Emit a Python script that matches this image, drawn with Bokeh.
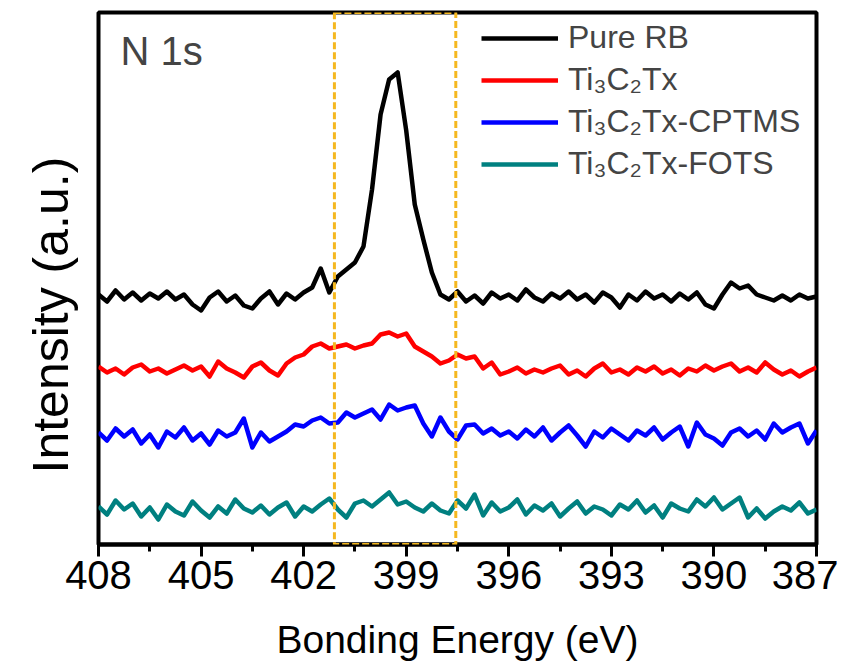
import math
from bokeh.plotting import figure
from bokeh.models import Range1d, FixedTicker, BoxAnnotation, Label, Legend, LegendItem, Title
from bokeh.embed import file_html
from bokeh.resources import INLINE

# ---------------- data ----------------
energy = [408.00, 407.75, 407.50, 407.25, 407.00, 406.75, 406.50, 406.25,
          406.00, 405.75, 405.50, 405.25, 405.00, 404.75, 404.50, 404.25,
          404.00, 403.75, 403.50, 403.25, 403.00, 402.75, 402.50, 402.25,
          402.00, 401.75, 401.50, 401.25, 401.00, 400.75, 400.50, 400.25,
          400.00, 399.75, 399.50, 399.25, 399.00, 398.75, 398.50, 398.25,
          398.00, 397.75, 397.50, 397.25, 397.00, 396.75, 396.50, 396.25,
          396.00, 395.75, 395.50, 395.25, 395.00, 394.75, 394.50, 394.25,
          394.00, 393.75, 393.50, 393.25, 393.00, 392.75, 392.50, 392.25,
          392.00, 391.75, 391.50, 391.25, 391.00, 390.75, 390.50, 390.25,
          390.00, 389.75, 389.50, 389.25, 389.00, 388.75, 388.50, 388.25,
          388.00, 387.75, 387.50, 387.25, 387.00]

pure_rb = [250, 243, 254, 245, 252, 244, 251, 246,
           253, 245, 250, 240, 234, 247, 253, 243,
           249, 239, 236, 246, 253, 240, 251, 245,
           252, 257, 276, 252, 268, 275, 282, 298,
           355, 430, 465, 472, 414, 340, 305, 272,
           250, 245, 253, 243, 249, 241, 252, 246,
           250, 244, 255, 247, 243, 251, 246, 253,
           245, 250, 242, 252, 247, 237, 250, 244,
           253, 246, 250, 243, 251, 245, 252, 240,
           236, 250, 262, 256, 259, 250, 247, 244,
           249, 244, 250, 246, 248]

ti3c2tx = [178, 172, 176, 170, 177, 180, 173, 176,
           171, 175, 179, 174, 178, 168, 183, 176,
           172, 167, 178, 182, 174, 169, 181, 187,
           190, 198, 201, 196, 198, 200, 196, 199,
           201, 210, 212, 208, 211, 198, 193, 188,
           181, 184, 190, 186, 188, 176, 182, 170,
           173, 177, 171, 175, 172, 176, 179, 170,
           174, 168, 176, 181, 172, 175, 170, 177,
           173, 178, 171, 175, 169, 176, 173, 179,
           174, 178, 181, 173, 177, 172, 182, 175,
           170, 174, 168, 173, 177]

ti3c2tx_cptms = [112, 104, 116, 108, 115, 101, 110, 97,
                 113, 107, 117, 104, 111, 100, 114, 108,
                 112, 126, 97, 112, 103, 108, 113, 120,
                 118, 124, 127, 121, 122, 132, 127, 131,
                 135, 125, 140, 134, 137, 139, 121, 108,
                 127, 113, 105, 119, 120, 111, 116, 109,
                 113, 106, 115, 108, 117, 104, 112, 119,
                 109, 98, 113, 107, 116, 110, 104, 114,
                 109, 117, 105, 112, 118, 98, 122, 110,
                 106, 99, 112, 116, 108, 114, 105, 121,
                 112, 117, 121, 101, 114]

ti3c2tx_fots = [38, 30, 44, 35, 41, 28, 37, 25,
                40, 33, 29, 43, 34, 27, 38, 31,
                45, 36, 32, 39, 30, 37, 42, 28,
                38, 33, 40, 46, 35, 27, 41, 44,
                38, 45, 52, 40, 43, 37, 33, 41,
                34, 31, 44, 36, 50, 29, 42, 33,
                37, 45, 30, 39, 34, 41, 28, 36,
                43, 31, 38, 35, 29, 40, 35, 44,
                32, 39, 27, 41, 36, 33, 45, 38,
                47, 35, 41, 47, 27, 36, 26, 33,
                38, 34, 42, 31, 35]

series_names = ["Pure RB", "Ti\u2083C\u2082Tx", "Ti\u2083C\u2082Tx-CPTMS", "Ti\u2083C\u2082Tx-FOTS"]
series_values = [pure_rb, ti3c2tx, ti3c2tx_cptms, ti3c2tx_fots]
series_colors = ["#000000", "#FF0000", "#0000FF", "#008080"]

major_ticks = [408, 405, 402, 399, 396, 393, 390, 387]
minor_ticks = [406.5, 403.5, 400.5, 397.5, 394.5, 391.5, 388.5]
highlight_left, highlight_right = 401.1, 397.55

x_label = "Bonding Energy (eV)"
y_label = "Intensity (a.u.)"
panel_label = "N 1s"

FONT = "Liberation Sans"

# ---------------- figure ----------------
p = figure(width=837, height=660, output_backend="svg", toolbar_location=None,
           x_range=Range1d(408, 387), y_range=Range1d(0, 532),
           min_border_left=97, min_border_right=22, min_border_top=12, min_border_bottom=116)
p.frame_width = 718
p.frame_height = 532

p.background_fill_color = "white"
p.border_fill_color = "white"
p.outline_line_color = "black"
p.outline_line_width = 4
p.xgrid.visible = False
p.ygrid.visible = False
p.yaxis.visible = False

ax = p.xaxis[0]
ax.ticker = FixedTicker(ticks=major_ticks, minor_ticks=minor_ticks)
ax.axis_line_width = 4
ax.major_tick_in = 0
ax.major_tick_out = 12
ax.minor_tick_in = 0
ax.minor_tick_out = 7
ax.major_tick_line_width = 3
ax.minor_tick_line_width = 3
ax.major_label_text_font = FONT
ax.major_label_text_font_size = "40px"
ax.major_label_text_color = "black"
ax.major_label_standoff = 4
ax.axis_label = x_label
ax.axis_label_text_font = FONT
ax.axis_label_text_font_size = "39px"
ax.axis_label_text_font_style = "normal"
ax.axis_label_text_color = "black"
ax.axis_label_standoff = 26

box = BoxAnnotation(left=highlight_left, right=highlight_right, fill_alpha=0,
                    line_color="#F5B820", line_alpha=1.0, line_width=3, line_dash="7 3")
p.add_layout(box)

items = []
for name, vals, col in zip(series_names, series_values, series_colors):
    r = p.line(energy, vals, line_color=col, line_width=4.5, line_join="round")
    items.append(LegendItem(label=name, renderers=[r]))

legend = Legend(items=items, location=(383, 362), padding=0, margin=0,
                spacing=5, glyph_width=77, glyph_height=36, label_height=36,
                label_standoff=10, label_text_font=FONT, label_text_font_size="32px",
                border_line_alpha=0, background_fill_alpha=0)
p.add_layout(legend)

p.add_layout(Label(x=407.36, y=494, text=panel_label, text_font=FONT,
                   text_font_size="40px", text_align="left", text_baseline="middle"))

ytitle = Title(text=y_label, align="left", offset=71, standoff=40,
               text_font=FONT, text_font_size="50px", text_font_style="normal",
               text_color="black")
p.add_layout(ytitle, "left")

open("out.html", "w").write(file_html(p, INLINE))
